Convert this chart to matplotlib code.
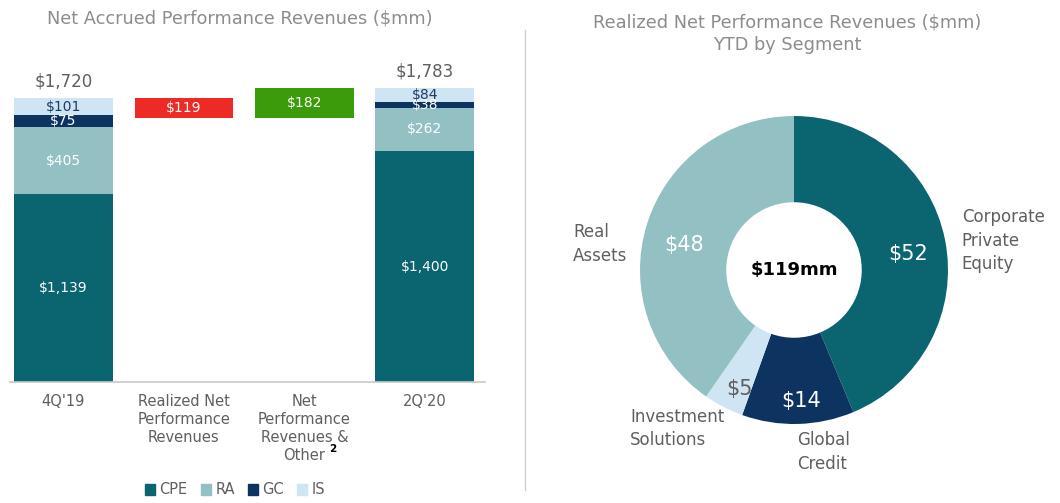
import numpy as np
import matplotlib
matplotlib.use("Agg")
import matplotlib.pyplot as plt
from matplotlib.lines import Line2D
from matplotlib.patches import Patch

# data
categories = ["4Q'19", "Realized Net\nPerformance\nRevenues",
              "Net\nPerformance\nRevenues &\nOther", "2Q'20"]
segments = ["CPE", "RA", "GC", "IS"]
start_vals = [1139, 405, 75, 101]
end_vals = [1400, 262, 38, 84]
realized = 119
other = 182
start_total = "$1,720"
end_total = "$1,783"

pie_labels = ["Corporate\nPrivate\nEquity", "Global\nCredit", "Investment\nSolutions", "Real\nAssets"]
pie_vals = [52, 14, 5, 48]
pie_total = "$119mm"

seg_colors = ["#0b6570", "#93c0c3", "#0d3461", "#cfe5f4"]
pie_colors = [seg_colors[0], seg_colors[2], seg_colors[3], seg_colors[1]]
red = "#ee2a26"
green = "#3b9b0b"
gray = "#5f5f5f"
light_gray = "#8c8c8c"

W, H = 1060, 503
fig = plt.figure(figsize=(W / 100, H / 100), dpi=100)


def px_axes(left, top, width, height):
    return fig.add_axes([left / W, 1 - (top + height) / H, width / W, height / H])


# ---- left waterfall
ax = px_axes(10, 60, 475, 322)
x = np.arange(len(categories))
bw = 0.82


def stack(xpos, vals):
    bottom = 0
    for i, v in enumerate(vals):
        ax.bar(xpos, v, bw, bottom=bottom, color=seg_colors[i], linewidth=0)
        tc = "#1c3a66" if i == 3 else "white"
        ax.text(xpos, bottom + v / 2, f"${v:,}", ha="center", va="center",
                color=tc, fontsize=10)
        bottom += v
    return bottom


top0 = stack(x[0], start_vals)
ax.text(x[0], top0 + 45, start_total, ha="center", va="bottom", color=gray, fontsize=12)

ax.bar(x[1], realized, bw, bottom=top0 - realized, color=red, linewidth=0)
ax.text(x[1], top0 - realized / 2, f"${realized}", ha="center", va="center",
        color="white", fontsize=10)

ax.bar(x[2], other, bw, bottom=top0 - realized, color=green, linewidth=0)
ax.text(x[2], top0 - realized + other / 2, f"${other}", ha="center", va="center",
        color="white", fontsize=10)

top3 = stack(x[3], end_vals)
ax.text(x[3], top3 + 45, end_total, ha="center", va="bottom", color=gray, fontsize=12)

ax.set_xlim(-0.444, 3.5)
ax.set_ylim(0, 322 / 0.165)
ax.set_xticks(x)
ax.set_xticklabels(categories, color=gray, fontsize=10.5, linespacing=1.25)
ax.tick_params(axis="x", length=0, pad=9)
ax.set_yticks([])
for s in ["top", "left", "right"]:
    ax.spines[s].set_visible(False)
ax.spines["bottom"].set_color("#c8c8c8")
ax.spines["bottom"].set_linewidth(1.2)
# footnote marker next to "Other"
fig.text(329 / W, 1 - 449 / H, "2", fontsize=7.5, fontweight="bold", color="black",
         va="center")

handles = [Patch(color=c) for c in seg_colors]
fig.legend(handles, segments, loc="center", bbox_to_anchor=(235 / W, 1 - 490 / H),
           ncol=4, frameon=False, fontsize=10.5, handlelength=0.7, handleheight=0.7,
           handletextpad=0.3, columnspacing=0.9, labelcolor=gray)

fig.text(240 / W, 1 - 18 / H, "Net Accrued Performance Revenues ($mm)",
         ha="center", va="center", color=light_gray, fontsize=12.8)

# divider
fig.add_artist(Line2D([525 / W, 525 / W], [1 - 30 / H, 1 - 490 / H],
                      color="#cfcfcf", linewidth=1))

# ---- right donut
r_px = 154
cx, cy = 794, 270
axp = px_axes(cx - 2.5 * r_px / 2, cy - 2.5 * r_px / 2, 2.5 * r_px, 2.5 * r_px)
inner = 0.44
wedges, _ = axp.pie(pie_vals, colors=pie_colors, startangle=90, counterclock=False,
                    radius=1, wedgeprops=dict(width=1 - inner, linewidth=0))
axp.set_xlim(-1.25, 1.25)
axp.set_ylim(-1.25, 1.25)
axp.set_aspect("equal")

val_r = [0.75, 0.85, 0.85, 0.73]
val_shift = [-3.5, 1.5, 2.5, 4.5]
val_colors = ["white", "white", gray, "white"]
for w, v, rr, sh, vc in zip(wedges, pie_vals, val_r, val_shift, val_colors):
    ang = np.deg2rad((w.theta1 + w.theta2) / 2 + sh)
    axp.text(rr * np.cos(ang), rr * np.sin(ang), f"${v}", ha="center", va="center",
             color=vc, fontsize=15)
axp.text(0, 0, pie_total, ha="center", va="center", fontsize=13,
         fontweight="bold", color="black")

label_pos = [(1.09, 0.19), (0.02, -1.18), (-1.065, -1.03), (-1.435, 0.17)]
for lab, (lx, ly) in zip(pie_labels, label_pos):
    axp.text(lx, ly, lab, ha="left", va="center", color=gray, fontsize=12,
             linespacing=1.4)

fig.text(787 / W, 1 - 34 / H, "Realized Net Performance Revenues ($mm)\nYTD by Segment",
         ha="center", va="center", color=light_gray, fontsize=12.8, linespacing=1.35)

fig.savefig("out.png", dpi=100)
